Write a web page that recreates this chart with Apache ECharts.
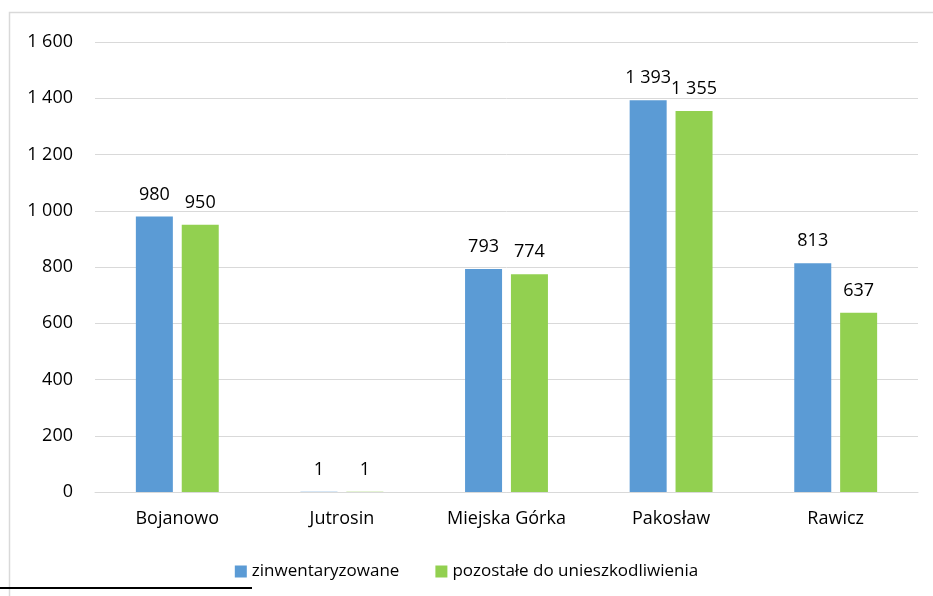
<!DOCTYPE html>
<html>
<head>
<meta charset="utf-8">
<script src="https://cdn.jsdelivr.net/npm/echarts@6/dist/echarts.min.js"></script>
<style>
html, body { margin: 0; padding: 0; background: #fff; }
#chart { width: 933px; height: 596px; }
</style>
</head>
<body>
<div id="chart"></div>
<script>
var categories = ['Bojanowo', 'Jutrosin', 'Miejska Górka', 'Pakosław', 'Rawicz'];
var seriesNames = ['zinwentaryzowane', 'pozostałe do unieszkodliwienia'];
var inventoried = [980, 1, 793, 1393, 813];
var remaining = [950, 1, 774, 1355, 637];
var yTicks = [0, 200, 400, 600, 800, 1000, 1200, 1400, 1600];

function spaced(v) {
    return String(v).replace(/\B(?=(\d{3})+(?!\d))/g, ' ');
}

var font = '"Open Sans", sans-serif';
var chart = echarts.init(document.getElementById('chart'));

var labelStyle = {
    show: true,
    position: 'top',
    distance: 13,
    color: '#000',
    fontSize: 18,
    fontFamily: font,
    formatter: function (p) { return spaced(p.value); }
};

chart.setOption({
    animation: false,
    textStyle: { fontFamily: font },
    grid: { left: 95, right: 15, top: 42, bottom: 104 },
    legend: {
        bottom: 11,
        left: 'center',
        itemWidth: 12,
        itemHeight: 12,
        itemGap: 36,
        icon: 'rect',
        textStyle: { fontSize: 17, color: '#000', fontFamily: font },
        data: seriesNames
    },
    xAxis: {
        type: 'category',
        data: categories,
        axisTick: { show: false },
        axisLine: { lineStyle: { color: '#d9d9d9', width: 1 } },
        axisLabel: { color: '#000', fontSize: 18, margin: 18, fontFamily: font }
    },
    yAxis: {
        type: 'value',
        min: yTicks[0],
        max: yTicks[yTicks.length - 1],
        interval: 200,
        axisLine: { show: false },
        axisTick: { show: false },
        splitLine: { lineStyle: { color: '#d9d9d9', width: 1 } },
        axisLabel: {
            color: '#000', fontSize: 18, margin: 22, fontFamily: font,
            formatter: function (v) { return spaced(v); }
        }
    },
    series: [
        {
            name: seriesNames[0],
            type: 'bar',
            data: inventoried,
            barWidth: 37,
            barGap: '24%',
            itemStyle: { color: '#5b9bd5' },
            label: labelStyle
        },
        {
            name: seriesNames[1],
            type: 'bar',
            data: remaining,
            barWidth: 37,
            itemStyle: { color: '#92d050' },
            label: labelStyle
        }
    ],
    graphic: [
        {
            type: 'polyline',
            shape: { points: [[9.5, 596], [9.5, 12.5], [933, 12.5]] },
            style: { stroke: '#d9d9d9', lineWidth: 1.5, fill: null },
            silent: true
        },
        {
            type: 'rect',
            shape: { x: 0, y: 587, width: 252, height: 2 },
            style: { fill: '#000' },
            silent: true
        }
    ]
});
</script>
</body>
</html>
